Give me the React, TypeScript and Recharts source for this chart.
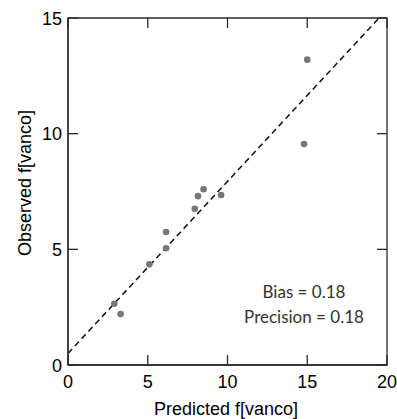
import { ScatterChart, Scatter, XAxis, YAxis, ReferenceLine, ReferenceArea } from 'recharts';

const predicted = [2.9, 3.3, 5.1, 6.15, 6.15, 7.95, 8.15, 8.5, 9.6, 14.8, 15.0];
const observed = [2.65, 2.2, 4.35, 5.75, 5.05, 6.75, 7.3, 7.6, 7.35, 9.55, 13.2];
const xTicks = [0, 5, 10, 15, 20];
const yTicks = [0, 5, 10, 15];
const fitLine = [
  { x: 0, y: 0.5 },
  { x: 19.5, y: 15 },
];
const stats = ['Bias = 0.18', 'Precision = 0.18'];

const points = predicted.map((p, i) => ({ x: p, y: observed[i] }));

const FONT = 'Liberation Sans, Arial, sans-serif';
const INK = '#000';
const FRAME = '#2a2a2a';
const TICK = 10;
const GAP = 1; // tickSize + tickMargin handed to recharts
const PLOT_W = 319;
const PLOT_H = 347;

// inward tick + label, drawn by hand since recharts only draws outward ticks
function BottomTick(props: any) {
  const { x, payload } = props;
  const y0 = props.y - GAP;
  return (
    <g>
      <line x1={x} y1={y0} x2={x} y2={y0 - TICK} stroke={FRAME} strokeWidth={1.3} />
      <line x1={x} y1={y0 - PLOT_H} x2={x} y2={y0 - PLOT_H + TICK} stroke={FRAME} strokeWidth={1.3} />
      <text x={x} y={y0 + 23} textAnchor="middle" fontFamily={FONT} fontSize={18} fill={INK}>
        {payload.value}
      </text>
    </g>
  );
}

function LeftTick(props: any) {
  const { y, payload } = props;
  const x0 = props.x + GAP;
  return (
    <g>
      <line x1={x0} y1={y} x2={x0 + TICK} y2={y} stroke={FRAME} strokeWidth={1.3} />
      <line x1={x0 + PLOT_W} y1={y} x2={x0 + PLOT_W - TICK} y2={y} stroke={FRAME} strokeWidth={1.3} />
      <text x={x0 - 6} y={y + 6.5} textAnchor="end" fontFamily={FONT} fontSize={18} fill={INK}>
        {payload.value}
      </text>
    </g>
  );
}

export default function App() {
  return (
    <div>
      <style>{'body{margin:0}'}</style>
      <ScatterChart width={397} height={419} margin={{ top: 18, right: 10, bottom: 0, left: 0 }}>
        <XAxis
          type="number"
          dataKey="x"
          domain={[0, 20]}
          ticks={xTicks}
          interval={0}
          height={54}
          tickSize={1}
          tickMargin={0}
          tickLine={false}
          tick={<BottomTick />}
          stroke={FRAME}
          strokeWidth={1.3}
          label={{
            content: () => (
              <text x={226} y={415} textAnchor="middle" fontFamily={FONT} fontSize={18} fill={INK}>
                Predicted f[vanco]
              </text>
            ),
          }}
        />
        <YAxis
          type="number"
          dataKey="y"
          domain={[0, 15]}
          ticks={yTicks}
          interval={0}
          width={68}
          tickSize={1}
          tickMargin={0}
          tickLine={false}
          tick={<LeftTick />}
          stroke={FRAME}
          strokeWidth={1.3}
          label={{
            content: () => (
              <text
                x={31}
                y={183}
                transform="rotate(-90, 31, 183)"
                textAnchor="middle"
                fontFamily={FONT}
                fontSize={18}
                fill={INK}
              >
                Observed f[vanco]
              </text>
            ),
          }}
        />
        <ReferenceArea x1={0} x2={20} y1={0} y2={15} fill="none" stroke={FRAME} strokeWidth={1.3} />
        <ReferenceLine segment={fitLine} stroke="#111" strokeWidth={1.5} strokeDasharray="6 4" />
        <Scatter
          data={points}
          isAnimationActive={false}
          shape={(p: any) => <circle cx={p.cx} cy={p.cy} r={3.3} fill="#777" />}
        />
        <text x={304} y={298} textAnchor="middle" fontFamily="Lato, sans-serif" fontSize={17} fill="#333">
          {stats[0]}
        </text>
        <text x={304} y={323} textAnchor="middle" fontFamily="Lato, sans-serif" fontSize={17} fill="#333">
          {stats[1]}
        </text>
      </ScatterChart>
    </div>
  );
}
